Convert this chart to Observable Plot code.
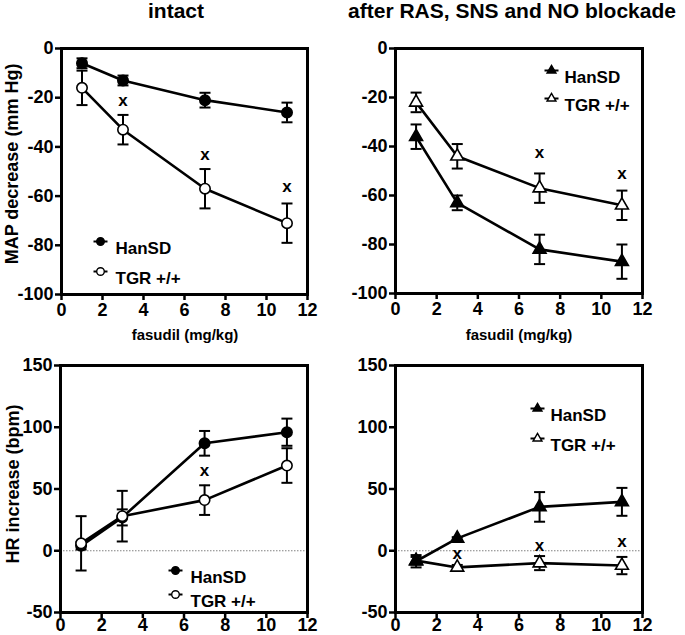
<!DOCTYPE html>
<html>
<head>
<meta charset="utf-8">
<script src="https://cdn.jsdelivr.net/npm/d3@7"></script>
<script src="https://cdn.jsdelivr.net/npm/@observablehq/plot@0.6"></script>
<style>
  body { margin: 0; background: #fff; }
  #wrap { position: relative; width: 685px; height: 635px; overflow: hidden; background: #fff;
          font-family: "Liberation Sans", Arial, Helvetica, sans-serif; font-weight: bold; }
  .panel { position: absolute; }
  #overlay { position: absolute; left: 0; top: 0; pointer-events: none; }
  #overlay text { font-family: "Liberation Sans", Arial, Helvetica, sans-serif; font-weight: bold; fill: #000; }
</style>
</head>
<body>
<div id="wrap">
  <div class="panel" id="p1" style="left:0;top:0;width:340px;height:340px"></div>
  <div class="panel" id="p2" style="left:340px;top:0;width:345px;height:340px"></div>
  <div class="panel" id="p3" style="left:0;top:340px;width:340px;height:295px"></div>
  <div class="panel" id="p4" style="left:340px;top:340px;width:345px;height:295px"></div>
  <svg id="overlay" width="685" height="635"></svg>
</div>
<script>
// ---------- data ----------
const doses = [1, 3, 7, 11];
const seriesNames = ["HanSD", "TGR +/+"];
const xTicks = [0, 2, 4, 6, 8, 10, 12];
const mapTicks = [0, -20, -40, -60, -80, -100];
const hrTicks = [150, 100, 50, 0, -50];
const titles = ["intact", "after RAS, SNS and NO blockade"];
const yLabels = ["MAP decrease (mm Hg)", "HR increase (bpm)"];
const xLabel = "fasudil (mg/kg)";
const sigLabel = "x";

// MAP, intact
const mapIntactHanSD = [-6, -13, -21, -26];
const mapIntactHanSDErr = [2, 2, 3, 4];
const mapIntactTGR = [-16, -33, -57, -71];
const mapIntactTGRErr = [7, 6, 8, 8];
const mapIntactSigDose = [3, 7, 11];
const mapIntactSigY = [-21, -43, -56];

// MAP, after blockade
const mapBlockHanSD = [-36, -63, -82, -87];
const mapBlockHanSDErr = [5, 3, 6, 7];
const mapBlockTGR = [-22, -44, -57, -64];
const mapBlockTGRErr = [4, 5, 6, 6];
const mapBlockSigDose = [7, 11];
const mapBlockSigY = [-42.6, -51];

// HR, intact
const hrIntactHanSD = [4, 27, 87, 96];
const hrIntactHanSDErr = [3, 6.5, 10, 11];
const hrIntactTGR = [6, 28, 41, 69];
const hrIntactTGRErr = [22, 20.5, 12, 14];
const hrIntactSigDose = [7];
const hrIntactSigY = [64.6];

// HR, after blockade
const hrBlockHanSD = [-8.5, 10, 35.5, 39.6];
const hrBlockHanSDErr = [5, 1, 12, 11.3];
const hrBlockTGR = [-8, -13.5, -10, -12];
const hrBlockTGRErr = [3, 2, 5.7, 7];
const hrBlockSigDose = [3, 7, 11];
const hrBlockSigY = [-2.2, 4.6, 7.3];

// ---------- drawing ----------
const FONT = '"Liberation Sans", Arial, Helvetica, sans-serif';
const capSym = {draw(c) { c.moveTo(-5.5, 0); c.lineTo(5.5, 0); }};
const legLineSym = {draw(c) { c.moveTo(-7, 0); c.lineTo(7, 0); }};
const fmt = d => String(d);

function panel(cfg) {
  const rows = (v, e) => doses.map((d, i) => ({dose: d, v: v[i], e: e[i]}));
  const series = [
    {name: seriesNames[0], rows: rows(cfg.han, cfg.hanErr), symbol: cfg.symbol, fill: "black"},
    {name: seriesNames[1], rows: rows(cfg.tgr, cfg.tgrErr), symbol: cfg.symbol, fill: "white"}
  ];
  const order = cfg.tgrFirst ? [series[1], series[0]] : series;
  const r = cfg.symbol === "triangle" ? 4.8 : 5.2;
  const lr = cfg.symbol === "triangle" ? 3.3 : 3.8;
  const marks = [];
  if (cfg.zero) marks.push(Plot.ruleY([0], {stroke: "#808080", strokeWidth: 1, strokeDasharray: "1.5,1.5"}));
  for (const s of series) marks.push(Plot.line(s.rows, {x: "dose", y: "v", stroke: "black", strokeWidth: 2.6}));
  for (const s of series) marks.push(
    Plot.ruleX(s.rows, {x: "dose", y1: d => d.v - d.e, y2: d => d.v + d.e, stroke: "black", strokeWidth: 2}),
    Plot.dot(s.rows, {x: "dose", y: d => d.v - d.e, symbol: capSym, fill: "none", stroke: "black", strokeWidth: 2}),
    Plot.dot(s.rows, {x: "dose", y: d => d.v + d.e, symbol: capSym, fill: "none", stroke: "black", strokeWidth: 2})
  );
  for (const s of order) marks.push(Plot.dot(s.rows, {x: "dose", y: "v", symbol: s.symbol, r, fill: s.fill, stroke: "black", strokeWidth: 1.6}));
  const sig = cfg.sigDose.map((d, i) => ({dose: d, y: cfg.sigY[i]}));
  marks.push(Plot.text(sig, {x: "dose", y: "y", text: () => sigLabel, fontSize: 17, fontWeight: "bold", fill: "black"}));
  // legend
  const L = cfg.legend;
  series.forEach((s, i) => {
    marks.push(
      Plot.dot([0], {frameAnchor: "top-left", dx: L.dx, dy: L.dy[i], symbol: legLineSym, fill: "none", stroke: "black", strokeWidth: 2}),
      Plot.dot([0], {frameAnchor: "top-left", dx: L.dx, dy: L.dy[i], symbol: s.symbol, r: lr, fill: s.fill, stroke: "black", strokeWidth: 1.4}),
      Plot.text([s.name], {frameAnchor: "top-left", dx: L.tdx, dy: L.dy[i], text: d => d, textAnchor: "start", fontSize: 17, fontWeight: "bold", fill: "black"})
    );
  });
  marks.push(
    Plot.axisX({ticks: xTicks, tickFormat: fmt, tickSize: 6, tickPadding: cfg.xPad, strokeWidth: 2.5, fontSize: 18, fontWeight: "bold", label: null}),
    Plot.axisY({ticks: cfg.yTicks, tickFormat: fmt, tickSize: 6, tickPadding: 2, strokeWidth: 2.5, fontSize: 18, fontWeight: "bold", label: null}),
    Plot.frame({stroke: "black", strokeWidth: 3})
  );
  return Plot.plot({
    width: cfg.width, height: cfg.height,
    marginLeft: cfg.m[0], marginRight: cfg.m[1], marginTop: cfg.m[2], marginBottom: cfg.m[3],
    x: {domain: [0, 12], label: null},
    y: {domain: cfg.yDomain, label: null},
    style: {fontFamily: FONT, fontWeight: "bold", fontSize: "18px", color: "black", background: "white", overflow: "visible"},
    marks
  });
}

document.getElementById("p1").append(panel({
  width: 340, height: 340, m: [61, 33, 48, 46], yDomain: [-100, 0], yTicks: mapTicks, symbol: "circle", xPad: 3,
  han: mapIntactHanSD, hanErr: mapIntactHanSDErr, tgr: mapIntactTGR, tgrErr: mapIntactTGRErr,
  sigDose: mapIntactSigDose, sigY: mapIntactSigY, legend: {dx: 39, dy: [193, 223], tdx: 54}
}));
document.getElementById("p2").append(panel({
  width: 345, height: 340, m: [55, 43, 48, 47], yDomain: [-100, 0], yTicks: mapTicks, symbol: "triangle", xPad: 3,
  han: mapBlockHanSD, hanErr: mapBlockHanSDErr, tgr: mapBlockTGR, tgrErr: mapBlockTGRErr,
  sigDose: mapBlockSigDose, sigY: mapBlockSigY, legend: {dx: 156, dy: [22, 50], tdx: 169}
}));
document.getElementById("p3").append(panel({
  width: 340, height: 295, m: [60, 33, 25, 23], yDomain: [-50, 150], yTicks: hrTicks, symbol: "circle", zero: true, xPad: 0,
  han: hrIntactHanSD, hanErr: hrIntactHanSDErr, tgr: hrIntactTGR, tgrErr: hrIntactTGRErr,
  sigDose: hrIntactSigDose, sigY: hrIntactSigY, legend: {dx: 115, dy: [205, 229], tdx: 130}
}));
document.getElementById("p4").append(panel({
  width: 345, height: 295, m: [55, 43, 25, 23], yDomain: [-50, 150], yTicks: hrTicks, symbol: "triangle", zero: true, tgrFirst: true, xPad: 0,
  han: hrBlockHanSD, hanErr: hrBlockHanSDErr, tgr: hrBlockTGR, tgrErr: hrBlockTGRErr,
  sigDose: hrBlockSigDose, sigY: hrBlockSigY, legend: {dx: 142, dy: [43, 73], tdx: 155}
}));

// titles and axis labels
const ov = d3.select("#overlay");
ov.append("text").attr("x", 176).attr("y", 17.5).attr("text-anchor", "middle").attr("font-size", 21).text(titles[0]);
ov.append("text").attr("x", 512).attr("y", 17.5).attr("text-anchor", "middle").attr("font-size", 21).text(titles[1]);
ov.append("text").attr("transform", "translate(17.5,164) rotate(-90)").attr("text-anchor", "middle").attr("font-size", 18).text(yLabels[0]);
ov.append("text").attr("transform", "translate(18.5,484) rotate(-90)").attr("text-anchor", "middle").attr("font-size", 18).text(yLabels[1]);
ov.append("text").attr("x", 185).attr("y", 340).attr("text-anchor", "middle").attr("font-size", 15).text(xLabel);
ov.append("text").attr("x", 519).attr("y", 340).attr("text-anchor", "middle").attr("font-size", 15).text(xLabel);
</script>
</body>
</html>
